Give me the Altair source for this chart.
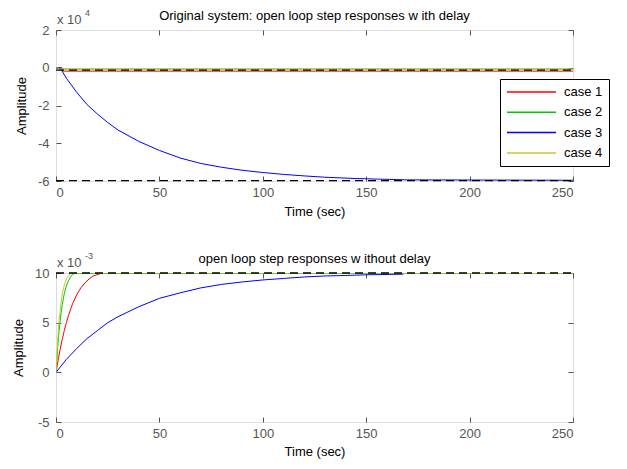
import altair as alt
import pandas as pd

cases = ["case 1", "case 2", "case 3", "case 4"]
colors = ["#FF0000", "#00C800", "#0000FF", "#C8C832"]

# ---- top panel: with delay (units of 1e4) ----
top_t = {
    "case 1": [0, 3, 3.5, 250],
    "case 2": [0, 1, 1.5, 250],
    "case 3": [0, 2, 5, 10, 15, 20, 25, 30, 40, 50, 60, 70, 80, 90, 100, 110, 120, 130, 145, 170, 250],
    "case 4": [0, 1, 1.5, 250],
}
top_y = {
    "case 1": [0, 0, -0.18, -0.18],
    "case 2": [0, 0, -0.07, -0.07],
    "case 3": [0, 0, -0.55, -1.3, -1.95, -2.45, -2.9, -3.3, -3.9, -4.38, -4.78, -5.07, -5.27,
               -5.43, -5.55, -5.65, -5.73, -5.8, -5.87, -5.94, -5.96],
    "case 4": [0, 0, -0.07, -0.07],
}
top_final = [-0.13, -5.98]

# ---- bottom panel: without delay (units of 1e-3) ----
bot_t = {
    "case 1": [0, 1, 2, 3, 4, 5, 6, 8, 10, 12, 14, 16, 18, 21],
    "case 2": [0, 0.5, 1, 1.5, 2, 3, 4, 5, 6, 7, 8, 9, 250],
    "case 3": [0, 5, 10, 15, 20, 25, 30, 40, 50, 60, 70, 80, 90, 100, 110, 120, 130, 140, 150, 168],
    "case 4": [0, 0.5, 1, 1.5, 2, 3, 4, 5, 6, 7, 8, 250],
}
bot_y = {
    "case 1": [0, 1.2, 2.3, 3.3, 4.2, 5.0, 5.7, 6.9, 7.8, 8.5, 9.0, 9.4, 9.7, 9.9],
    "case 2": [0, 1.5, 3.0, 4.2, 5.2, 6.8, 7.9, 8.7, 9.2, 9.6, 9.85, 9.95, 10],
    "case 3": [0, 1.3, 2.4, 3.4, 4.2, 5.0, 5.6, 6.6, 7.45, 8.0, 8.5, 8.85, 9.1, 9.3, 9.45,
               9.6, 9.7, 9.75, 9.82, 9.88],
    "case 4": [0, 2.0, 3.8, 5.2, 6.3, 7.8, 8.8, 9.4, 9.75, 9.92, 10, 10],
}
bot_final = [10]

x_ticks = [0, 50, 100, 150, 200, 250]
top_ticks = [2, 0, -2, -4, -6]
bot_ticks = [10, 5, 0, -5]

FONT = "Liberation Sans"
FS = 13
W = 517
GRAY = "#555555"
LABEL_EXPR = "datum.value < 0 ? '-' + abs(datum.value) : '' + datum.value"


def frame(tdict, ydict):
    rows = []
    for c in cases:
        for k, (t, y) in enumerate(zip(tdict[c], ydict[c])):
            rows.append({"t": t, "y": y, "case": c, "k": k})
    return pd.DataFrame(rows)


def txt(s, x, y, size, col, align="left"):
    return alt.Chart(pd.DataFrame({"s": [s]})).mark_text(
        align=align, baseline="middle", fontSize=size, font=FONT, color=col).encode(
        text="s:N", x=alt.value(x), y=alt.value(y))


def panel(df, finals, ydom, yticks, H, title, exp_main, exp_sup, legend, tpad):
    xs = alt.Scale(domain=[0, 250], nice=False, zero=False)
    ys = alt.Scale(domain=ydom, nice=False, zero=False)
    common = dict(grid=False, domain=False, offset=-5, tickSize=5, tickColor=GRAY,
                  labelColor=GRAY, labelFontSize=FS, titleFontSize=FS,
                  titleFontWeight="normal", titleColor="#000000",
                  labelFont=FONT, titleFont=FONT, labelExpr=LABEL_EXPR)
    xax = alt.Axis(values=x_ticks, labelPadding=5, title="Time (sec)", titlePadding=tpad, **common)
    yax = alt.Axis(values=yticks, labelPadding=7, title="Amplitude", titlePadding=9, **common)
    if legend:
        leg = alt.Legend(title=None, orient="none", legendX=444, legendY=49,
                         strokeColor="#000000", fillColor="#ffffff", padding=6,
                         symbolType="stroke", symbolSize=2400, symbolStrokeWidth=1.5,
                         clipHeight=14, labelFontSize=FS, labelFont=FONT,
                         labelColor="#000000", rowPadding=6.3, labelOffset=7,
                         labelLimit=200, cornerRadius=0)
    else:
        leg = None
    col = alt.Color("case:N", scale=alt.Scale(domain=cases, range=colors), legend=leg)

    lines = alt.Chart(df).mark_line(strokeWidth=1, clip=True).encode(
        x=alt.X("t:Q", scale=xs, axis=xax),
        y=alt.Y("y:Q", scale=ys, axis=yax),
        color=col,
        detail="case:N",
        order="k:Q",
    )
    fin = alt.Chart(pd.DataFrame({"y": finals})).mark_rule(
        color="#000000", strokeDash=[8, 5], strokeWidth=1.3).encode(
        y=alt.Y("y:Q", scale=ys, axis=None), x=alt.value(0), x2=alt.value(W))
    ghost = alt.Chart(df).mark_point(opacity=0).encode(
        x=alt.X("t:Q", scale=xs, axis=alt.Axis(orient="top", values=x_ticks, labels=False,
                                               grid=False, domain=False, offset=-5, tickSize=5,
                                               tickColor=GRAY, title="")),
        y=alt.Y("y:Q", scale=ys, axis=alt.Axis(orient="right", values=yticks, labels=False,
                                               grid=False, domain=False, offset=-5, tickSize=5,
                                               tickColor=GRAY, title="")),
    )
    t0 = txt(title, W / 2, -14, FS, "#000000", align="center")
    t1 = txt(exp_main, 1, -10, FS, GRAY)
    t2 = txt(exp_sup, 29, -17, 9, GRAY)
    return alt.layer(lines, fin, ghost, t0, t1, t2).resolve_axis(
        x="independent", y="independent").properties(width=W, height=H)


top = panel(frame(top_t, top_y), top_final, [-6, 2], top_ticks, 151,
            "Original system: open loop step responses w ith delay", "x 10", "4", True, 6)
bot = panel(frame(bot_t, bot_y), bot_final, [-5, 10], bot_ticks, 149,
            "open loop step responses w ithout delay", "x 10", "-3", False, 5)

chart = alt.vconcat(top, bot, spacing=32).resolve_legend(color="independent").resolve_scale(
    color="shared").configure_view(stroke="#333333", strokeWidth=1).configure(
    background="#ffffff", padding={"left": 4, "top": 0, "right": 0, "bottom": 0})

chart.save("out.html", embed_options={"renderer": "svg", "actions": False})
